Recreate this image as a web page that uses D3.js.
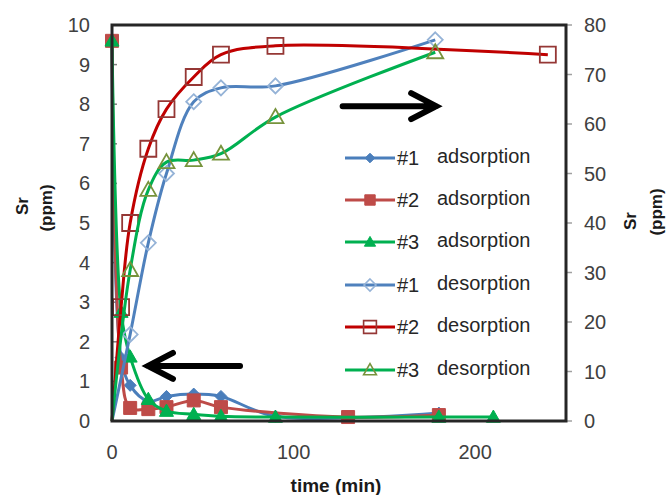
<!DOCTYPE html>
<html><head><meta charset="utf-8">
<script src="https://cdn.jsdelivr.net/npm/d3@7"></script>
<style>
html,body{margin:0;padding:0;background:#fff;}
svg{display:block;}
text{font-family:"Liberation Sans",Arial,sans-serif;}
</style></head>
<body>
<svg id="chart" width="670" height="495"></svg>
<script>
// ---- data (time in min, Sr in ppm) ----
const xTicks = [0, 100, 200];
const yLeftTicks = [0,1,2,3,4,5,6,7,8,9,10];
const yRightTicks = [0,10,20,30,40,50,60,70,80];

// adsorption series (left axis)
const ads1Time = [0, 5, 10, 20, 30, 45, 60, 90, 180];
const ads1Sr   = [9.6, 1.6, 0.9, 0.5, 0.62, 0.68, 0.62, 0.12, 0.2];
const ads2Time = [0, 5, 10, 20, 30, 45, 60, 130, 180];
const ads2Sr   = [9.6, 1.35, 0.33, 0.3, 0.35, 0.52, 0.35, 0.1, 0.15];
const ads3Time = [0, 5, 10, 20, 30, 45, 60, 90, 180, 210];
const ads3Sr   = [9.6, 2.75, 1.62, 0.55, 0.25, 0.17, 0.12, 0.1, 0.1, 0.1];

// desorption series (right axis)
const des1Time = [0, 10, 20, 30, 45, 60, 90, 178];
const des1Sr   = [0, 17.5, 36, 50, 64.5, 67.3, 67.7, 77];
const des2Time = [0, 5, 10, 20, 30, 45, 60, 90, 240];
const des2Sr   = [0, 23, 40, 55, 63, 69.5, 74, 75.8, 74];
const des3Time = [0, 10, 20, 30, 45, 60, 90, 178];
const des3Sr   = [0, 30.5, 46.7, 52.3, 52.7, 54, 61.4, 74.5];

const legendLabels = [["#1","adsorption"],["#2","adsorption"],["#3","adsorption"],
                      ["#1","desorption"],["#2","desorption"],["#3","desorption"]];

// annotation arrows in data units
const arrowRight = {t0: 127, t1: 178.5, value: 63.6};   // right axis
const arrowLeft  = {t0: 70.5, t1: 19.8, value: 1.39};   // left axis

// ---- layout ----
const svg = d3.select("#chart");
const L = 112, R = 566, T = 25, B = 421;
const x = d3.scaleLinear().domain([0, 250]).range([L, R]);
const yL = d3.scaleLinear().domain([0, 10]).range([B, T]);
const yR = d3.scaleLinear().domain([0, 80]).range([B, T]);

const zip = (a, b) => a.map((v, i) => [v, b[i]]);

const series = [
  {name:"ads1", data: zip(ads1Time, ads1Sr), y: yL, line:"#4a7ebb", shape:"diamond", fill:"#4a7ebb", stroke:"#4a7ebb", size:12, skipFirst:false},
  {name:"ads2", data: zip(ads2Time, ads2Sr), y: yL, line:"#be4b48", shape:"square", fill:"#be4b48", stroke:"#be4b48", size:13, skipFirst:false},
  {name:"ads3", data: zip(ads3Time, ads3Sr), y: yL, line:"#00b050", shape:"triangle", fill:"#00b050", stroke:"#00b050", size:14, skipFirst:false},
  {name:"des1", data: zip(des1Time, des1Sr), y: yR, line:"#4f81bd", shape:"diamond", fill:"none", stroke:"#95b3d7", size:15, skipFirst:true},
  {name:"des2", data: zip(des2Time, des2Sr), y: yR, line:"#c00000", shape:"square", fill:"none", stroke:"#953735", size:16, skipFirst:true},
  {name:"des3", data: zip(des3Time, des3Sr), y: yR, line:"#00b050", shape:"triangle", fill:"none", stroke:"#77933c", size:16, skipFirst:true}
];

function markerPath(shape, s) {
  const h = s / 2;
  if (shape === "diamond") return `M0,${-h}L${h},0L0,${h}L${-h},0Z`;
  if (shape === "square") return `M${-h},${-h}H${h}V${h}H${-h}Z`;
  return `M0,${-h}L${h},${h*0.75}L${-h},${h*0.75}Z`;
}

// ---- tick labels ----
const g = svg.append("g");
g.selectAll(".yl").data(yLeftTicks).join("text")
  .attr("x", 90).attr("y", d => yL(d)).attr("dy", "0.35em")
  .attr("text-anchor", "end").attr("font-size", 20).attr("fill", "#404040")
  .text(d => d);
g.selectAll(".yr").data(yRightTicks).join("text")
  .attr("x", 584).attr("y", d => yR(d)).attr("dy", "0.35em")
  .attr("text-anchor", "start").attr("font-size", 20).attr("fill", "#404040")
  .text(d => d);
g.selectAll(".xt").data(xTicks).join("text")
  .attr("x", d => x(d)).attr("y", 452).attr("dy", "0.35em")
  .attr("text-anchor", "middle").attr("font-size", 20).attr("fill", "#404040")
  .text(d => d);

// tick marks
g.selectAll(".ylt").data(yLeftTicks).join("line")
  .attr("x1", L).attr("x2", L + 5).attr("y1", d => yL(d)).attr("y2", d => yL(d))
  .attr("stroke", "#808080").attr("stroke-width", 1.5);
g.selectAll(".yrt").data(yRightTicks).join("line")
  .attr("x1", R).attr("x2", R + 6).attr("y1", d => yR(d)).attr("y2", d => yR(d))
  .attr("stroke", "#a0a0a0").attr("stroke-width", 1.5);

// axis titles
function vtitle(cx, cy, txt) {
  svg.append("text").attr("transform", `translate(${cx},${cy}) rotate(-90)`)
    .attr("text-anchor", "middle").attr("dy", "0.35em")
    .attr("font-size", 17).attr("font-weight", "bold").attr("fill", "#1a1a1a").text(txt);
}
vtitle(22, 206, "Sr");
vtitle(46, 208, "(ppm)");
vtitle(630, 221, "Sr");
vtitle(656, 212, "(ppm)");
svg.append("text").attr("x", 336).attr("y", 492)
  .attr("text-anchor", "middle").attr("font-size", 19).attr("font-weight", "bold")
  .attr("fill", "#1a1a1a").text("time (min)");

// ---- series ----
const plot = svg.append("g");
series.forEach(s => {
  const line = d3.line().x(d => x(d[0])).y(d => s.y(d[1])).curve(d3.curveCatmullRom.alpha(0.5));
  plot.append("path").attr("d", line(s.data)).attr("fill", "none")
    .attr("stroke", s.line).attr("stroke-width", 3).attr("stroke-linejoin", "round");
  const pts = s.skipFirst ? s.data.slice(1) : s.data;
  plot.selectAll(null).data(pts).join("path")
    .attr("transform", d => `translate(${x(d[0])},${s.y(d[1])})`)
    .attr("d", markerPath(s.shape, s.size))
    .attr("fill", s.fill).attr("stroke", s.stroke)
    .attr("stroke-width", s.fill === "none" ? 1.8 : 1);
});

// frame
svg.append("rect").attr("x", L).attr("y", T).attr("width", R - L).attr("height", B - T)
  .attr("fill", "none").attr("stroke", "#262626").attr("stroke-width", 3);

// ---- arrows ----
function arrow(a, yScale) {
  const x0 = x(a.t0), x1 = x(a.t1), yy = yScale(a.value);
  const dir = x1 > x0 ? 1 : -1;
  const hl = 25, hw = 13;
  svg.append("path")
    .attr("d", `M${x0},${yy}L${x1},${yy}M${x1 - dir*hl},${yy - hw}L${x1},${yy}L${x1 - dir*hl},${yy + hw}`)
    .attr("fill", "none").attr("stroke", "#000").attr("stroke-width", 6)
    .attr("stroke-linecap", "round").attr("stroke-linejoin", "miter");
}
arrow(arrowRight, yR);
arrow(arrowLeft, yL);

// ---- legend ----
const lg = svg.append("g");
const rowY = [158, 200, 242, 285, 327, 370];
series.forEach((s, i) => {
  const yy = rowY[i];
  lg.append("line").attr("x1", 345).attr("x2", 395).attr("y1", yy).attr("y2", yy)
    .attr("stroke", s.line).attr("stroke-width", 3);
  lg.append("path").attr("transform", `translate(370,${yy})`)
    .attr("d", markerPath(s.shape, s.size * 0.8))
    .attr("fill", s.fill === "none" ? "none" : s.fill).attr("stroke", s.stroke)
    .attr("stroke-width", s.fill === "none" ? 1.6 : 1);
  lg.append("text").attr("x", 397).attr("y", yy).attr("dy", "0.35em")
    .attr("font-size", 20).attr("fill", "#262626").text(legendLabels[i][0]);
  lg.append("text").attr("x", 437).attr("y", yy - 2).attr("dy", "0.35em")
    .attr("font-size", 20).attr("fill", "#262626").text(legendLabels[i][1]);
});
</script>
</body></html>
